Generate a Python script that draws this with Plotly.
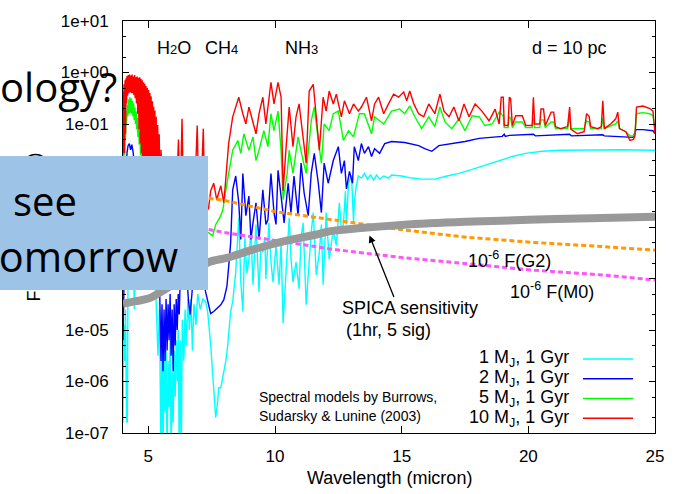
import numpy as np
import plotly.graph_objects as go

# ---------------- data (wavelength in micron, log10 flux in mJy) ----------------
wl_1mj = [4.00,4.03,4.06,4.10,4.14,4.17,4.20,4.30,4.40,4.45,4.50,4.60,4.80,5.00,5.20,5.30,
 5.38,5.44,5.50,5.54,5.58,5.62,5.66,5.70,5.74,5.78,5.82,5.86,5.90,5.94,5.98,6.02,6.06,6.10,6.14,6.18,6.22,6.26,6.30,6.34,6.40,6.45,6.50,6.56,6.62,6.68,6.74,6.80,6.88,6.95,7.05,7.15,
 7.26,7.34,7.46,7.58,7.66,7.74,7.78,7.86,7.94,7.98,8.06,8.13,8.25,8.33,
 8.45,8.57,8.65,8.73,8.81,8.89,8.97,9.05,9.13,9.25,9.37,9.44,9.52,9.60,9.64,9.76,9.84,9.92,10.04,10.16,10.24,10.32,10.44,10.56,10.63,10.71,10.83,10.95,11.03,11.11,11.23,11.35,11.43,11.51,11.63,11.75,11.83,11.90,12.02,12.14,12.22,12.30,12.42,12.54,12.62,12.70,12.78,12.82,12.90,13.02,13.10,13.13,13.21,13.29,13.41,13.53,13.65,13.77,13.89,14.01,14.13,14.29,14.48,14.60,15.0,15.4,15.79,16.31,16.79,17.26,17.78,18.17,18.57,18.97,19.37,19.88,20.56,21.23,22.54,23.73,25.00]
logf_1mj = [-6.8,-4.9,-5.6,-4.6,-6.75,-6.8,-3.8,-3.0,-3.5,-4.6,-3.6,-3.2,-3.5,-3.8,-4.0,-4.3,
 -5.5,-4.6,-7.5,-5.0,-7.5,-5.5,-6.6,-5.4,-7.5,-5.6,-6.5,-5.2,-7.5,-5.8,-6.8,-5.4,-6.3,-5.2,-6.0,-5.0,-7.5,-5.2,-7.5,-4.8,-5.6,-4.6,-5.3,-4.4,-5.0,-4.4,-5.4,-4.5,-4.9,-4.3,-4.6,-4.4,
 -4.45,-4.64,-5.28,-6.05,-6.70,-6.37,-6.12,-6.12,-5.90,-5.74,-5.60,-5.31,-4.64,-4.45,
 -3.88,-2.82,-4.07,-4.64,-3.20,-3.90,-3.63,-3.05,-4.12,-2.95,-4.26,-3.40,-3.49,-3.20,-4.01,-2.92,-3.68,-4.07,-3.36,-4.12,-3.30,-4.87,-3.78,-2.82,-3.60,-4.07,-3.68,-4.20,-3.20,-2.92,-4.51,-3.63,-3.10,-2.72,-3.93,-3.49,-2.95,-4.12,-2.72,-3.63,-3.30,-3.05,-3.36,-2.53,-3.05,-2.95,-2.30,-2.95,-2.15,-2.00,-2.90,-2.53,-2.20,-2.01,-2.05,-1.96,-2.07,-1.99,-2.09,-1.99,-2.07,-2.01,-2.05,-1.99,-2.01,-2.05,-2.07,-2.07,-2.01,-1.96,-1.88,-1.82,-1.76,-1.69,-1.63,-1.57,-1.53,-1.51,-1.50,-1.50,-1.51]

wl_2mj = [4.00,4.03,4.06,4.12,4.16,4.20,4.25,4.30,4.35,4.40,4.48,4.6,4.8,5.0,5.2,5.35,
 5.40,5.45,5.50,5.54,5.58,5.62,5.66,5.70,5.74,5.78,5.82,5.86,5.90,5.94,5.98,6.02,6.06,6.10,6.14,6.18,6.22,6.26,6.35,6.50,6.58,6.65,6.72,6.80,6.95,7.10,7.26,7.34,7.46,7.58,7.70,7.86,7.98,8.10,8.17,8.25,
 8.33,8.45,8.57,8.65,8.73,8.85,8.97,9.05,9.13,9.25,9.37,9.52,9.64,9.72,9.84,9.96,10.04,10.12,10.24,10.36,10.52,10.63,10.75,10.91,11.03,11.15,11.31,11.43,11.55,11.71,11.83,11.94,12.10,12.30,12.50,12.62,12.74,12.82,12.94,13.06,13.13,13.29,13.41,13.53,13.69,13.81,13.93,14.13,14.33,14.60,15.12,15.67,15.91,16.19,16.47,16.98,17.50,18.06,18.57,18.97,19.05,19.09,19.25,20.20,20.28,21.63,21.70,22.94,23.00,23.85,24.13,24.25,24.52,24.92,25.00]
logf_2mj = [-5.2,-4.4,-3.0,-1.9,-1.55,-1.42,-1.38,-1.50,-1.40,-1.55,-1.9,-2.5,-3.0,-3.3,-3.5,-3.6,
 -3.5,-4.3,-5.6,-4.5,-5.8,-4.6,-5.6,-4.4,-5.4,-4.5,-5.2,-4.3,-5.5,-4.6,-5.8,-4.5,-5.3,-4.4,-5.0,-4.3,-4.7,-4.0,-3.5,-3.8,-4.4,-4.7,-4.3,-3.8,-3.6,-3.8,-4.26,-4.45,-4.68,-4.64,-4.59,-4.51,-4.41,-4.16,-3.78,-3.30,
 -2.28,-2.01,-2.53,-3.24,-1.96,-2.78,-2.40,-3.24,-2.92,-2.53,-3.24,-2.28,-2.95,-2.86,-1.96,-2.72,-2.95,-1.90,-2.40,-2.92,-2.15,-2.72,-2.01,-2.78,-1.76,-2.34,-2.78,-1.96,-1.57,-2.15,-2.72,-1.76,-2.15,-1.71,-1.44,-1.96,-1.71,-2.26,-1.92,-2.15,-1.44,-1.71,-1.38,-1.57,-1.44,-1.63,-1.48,-1.57,-1.38,-1.34,-1.36,-1.42,-1.48,-1.53,-1.42,-1.38,-1.34,-1.28,-1.25,-1.24,-1.20,-1.24,-1.22,-1.20,-1.23,-1.20,-1.23,-1.21,-1.23,-1.25,-1.26,-1.11,-1.11,-1.13,-1.19]

wl_5mj = [4.00,4.02,4.04,4.06,4.08,4.10,4.12,4.14,4.17,4.19,4.22,4.24,4.27,4.29,4.32,4.34,4.37,4.39,4.42,4.44,4.47,4.49,4.52,4.54,4.57,4.59,4.62,4.64,4.67,4.69,4.72,4.75,4.78,4.82,4.86,4.95,5.2,5.5,6.0,6.3,6.6,7.0,7.3,
 7.38,7.54,7.66,7.82,7.94,8.06,8.17,8.33,8.53,8.65,8.77,8.97,9.13,9.25,9.37,9.56,9.72,9.84,9.96,10.12,10.24,10.32,10.48,10.56,10.71,10.91,11.11,11.23,11.43,11.55,11.71,11.83,11.94,12.14,12.30,12.50,12.70,12.90,13.10,13.33,13.53,13.81,13.93,14.29,14.60,14.92,15.12,15.32,15.52,15.79,16.07,16.31,16.51,16.71,16.98,17.26,17.50,17.78,18.06,18.29,18.57,18.85,19.01,19.05,19.20,19.25,19.30,19.37,19.50,19.76,19.90,20.15,20.20,20.25,20.45,20.50,20.60,20.67,20.90,21.00,21.07,21.55,21.63,21.68,22.20,22.30,22.40,22.46,22.88,22.94,23.00,23.45,23.53,23.60,23.85,24.01,24.15,24.21,24.27,24.52,24.80,24.92,25.00]
logf_5mj = [-1.57,-1.9,-1.25,-1.6,-0.95,-1.3,-0.75,-1.0,-0.62,-0.85,-0.52,-0.80,-0.48,-0.78,-0.50,-0.80,-0.55,-0.85,-0.60,-0.92,-0.68,-1.0,-0.76,-1.1,-0.88,-1.25,-1.02,-1.4,-1.15,-1.6,-1.30,-1.8,-1.50,-2.0,-1.8,-2.3,-2.6,-3.0,-3.2,-2.9,-3.0,-3.1,-3.1,
 -3.11,-3.17,-2.95,-2.82,-2.67,-2.28,-1.96,-1.51,-1.32,-1.57,-1.19,-1.51,-1.25,-1.71,-1.51,-1.13,-1.44,-0.80,-1.13,-0.75,-1.51,-2.47,-1.96,-1.51,-1.96,-1.25,-1.71,-1.96,-0.94,-0.67,-1.32,-1.76,-1.00,-1.13,-0.80,-0.75,-1.32,-1.13,-1.25,-0.80,-0.80,-1.19,-0.86,-1.00,-0.75,-0.71,-0.80,-0.65,-0.86,-1.09,-0.86,-1.05,-0.67,-0.96,-1.09,-0.90,-1.13,-0.84,-0.86,-1.03,-1.00,-0.77,-0.84,-1.07,-1.07,-0.86,-0.88,-1.07,-0.96,-0.96,-1.07,-1.07,-0.88,-1.07,-1.07,-0.92,-0.92,-1.07,-0.96,-0.96,-1.09,-1.09,-0.86,-1.09,-1.09,-0.94,-0.96,-1.09,-1.09,-0.88,-1.09,-1.00,-0.94,-1.09,-1.15,-1.23,-1.23,-1.19,-0.80,-0.78,-0.80,-0.84,-1.09]

wl_10mj = [4.00,4.02,4.04,4.06,4.08,4.10,4.12,4.14,4.16,4.18,4.21,4.23,4.26,4.28,4.31,4.33,4.36,4.38,4.41,4.43,4.46,4.48,4.51,4.53,4.56,4.58,4.61,4.63,4.66,4.68,4.71,4.73,4.76,4.78,4.81,4.83,4.86,4.88,4.91,4.93,4.96,4.98,5.01,5.03,5.06,5.08,5.11,5.13,5.16,5.18,5.21,5.23,5.26,5.28,5.31,5.34,5.37,5.40,5.43,5.46,5.50,
 5.60,5.80,6.00,6.12,6.19,6.24,6.29,6.33,6.37,6.50,6.70,6.85,6.93,6.98,7.08,7.17,7.22,7.30,
 7.38,7.46,7.58,7.70,7.86,7.98,8.10,8.17,8.33,8.45,8.57,8.73,8.85,8.97,9.13,9.25,9.37,9.52,9.64,9.84,9.96,10.12,10.24,10.32,10.44,10.56,10.71,10.83,10.95,11.11,11.23,11.35,11.51,11.63,11.75,11.90,12.02,12.14,12.30,12.42,12.62,12.74,12.94,13.10,13.29,
 13.41,13.61,13.81,13.93,14.09,14.29,14.48,14.68,14.88,15.08,15.20,15.32,15.48,15.67,15.87,16.07,16.31,16.51,16.67,16.87,17.06,17.26,17.46,17.66,17.90,18.17,18.45,18.69,18.85,18.93,19.01,19.05,19.20,19.25,19.30,19.37,19.50,19.76,19.90,20.15,20.20,20.25,20.45,20.50,20.60,20.67,20.90,21.00,21.07,21.27,21.55,21.63,21.68,21.94,22.20,22.30,22.40,22.46,22.74,22.88,22.94,23.00,23.25,23.45,23.53,23.60,23.85,24.01,24.15,24.21,24.27,24.52,24.80,24.92,25.00]
logf_10mj = [-0.38,-1.57,-0.23,-1.57,-0.15,-1.19,-0.11,-0.60,-0.07,-0.45,-0.05,-0.40,-0.04,-0.38,-0.06,-0.40,-0.04,-0.40,-0.08,-0.44,-0.05,-0.50,-0.09,-0.60,-0.08,-0.80,-0.10,-1.10,-0.09,-1.38,-0.12,-1.57,-0.15,-1.76,-0.19,-1.90,-0.22,-1.90,-0.26,-1.96,-0.30,-1.96,-0.34,-1.96,-0.40,-2.0,-0.46,-2.0,-0.56,-2.0,-0.66,-2.1,-0.74,-2.2,-0.86,-2.3,-1.02,-2.4,-1.20,-2.5,-1.50,
 -2.6,-2.4,-2.5,-2.2,-1.30,-2.3,-1.8,-0.90,-2.0,-2.4,-2.3,-2.1,-1.03,-2.2,-2.3,-1.09,-2.4,-2.7,
 -2.63,-2.30,-2.15,-2.47,-2.20,-2.53,-1.71,-1.38,-0.86,-0.67,-0.48,-0.80,-1.00,-0.67,-0.94,-1.19,-0.80,-0.48,-1.00,-0.19,-0.61,-0.19,-0.48,-2.30,-1.44,-0.67,-1.44,-0.86,-0.61,-1.25,-1.76,-0.36,-0.23,-0.86,-1.51,-0.48,-0.75,-0.36,-0.61,-0.42,-0.86,-0.55,-0.80,-0.61,-0.75,
 -0.67,-0.48,-0.94,-0.61,-0.48,-0.80,-0.61,-0.42,-0.48,-0.38,-0.55,-0.36,-0.61,-0.80,-0.86,-0.61,-0.80,-0.42,-0.75,-0.86,-0.67,-0.94,-0.61,-0.86,-0.61,-0.75,-0.94,-0.71,-1.00,-0.48,-0.48,-1.03,-1.03,-0.48,-0.50,-1.03,-0.84,-0.84,-1.03,-1.03,-0.48,-1.00,-1.00,-0.71,-0.71,-1.03,-0.77,-0.77,-1.05,-1.09,-1.05,-0.67,-1.10,-1.19,-1.15,-0.80,-0.85,-1.05,-1.09,-1.05,-0.55,-1.09,-1.00,-0.90,-0.77,-1.09,-1.15,-1.32,-1.30,-1.23,-0.67,-0.65,-0.70,-0.75,-1.19]

wl_g2 = [7.38, 8.06, 10.0, 12.22, 14.96, 17.58, 20.24, 22.9, 25.0]
logf_g2 = [-2.44, -2.49, -2.70, -2.86, -3.05, -3.20, -3.30, -3.38, -3.45]
wl_m0 = [7.38, 8.06, 10.0, 12.22, 14.96, 17.58, 20.24, 22.9, 25.0]
logf_m0 = [-3.05, -3.11, -3.26, -3.43, -3.59, -3.72, -3.84, -3.93, -4.03]
wl_spica = [4.0, 4.5, 5.0, 5.5, 6.0, 6.5, 7.0, 7.4, 8.1, 9.0, 9.84, 10.5, 11.6, 12.2, 13.4, 15.0, 17.5, 20.0, 22.5, 25.0]
logf_spica = [-4.49, -4.44, -4.39, -4.26, -4.10, -3.95, -3.80, -3.68, -3.60, -3.46, -3.34, -3.26, -3.15, -3.08, -3.02, -2.96, -2.90, -2.86, -2.83, -2.80]

series_names = ["1 M<sub>J</sub>, 1 Gyr", "2 M<sub>J</sub>, 1 Gyr", "5 M<sub>J</sub>, 1 Gyr", "10 M<sub>J</sub>, 1 Gyr"]
series_colors = ["#00FFFF", "#0000FF", "#00FF00", "#FF0000"]
y_tick_vals = [1e-7, 1e-6, 1e-5, 1e-4, 1e-3, 1e-2, 1e-1, 1e0, 1e1]
y_tick_text = ["1e-07", "1e-06", "1e-05", "1e-04", "1e-03", "1e-02", "1e-01", "1e+00", "1e+01"]
x_tick_vals = [5, 10, 15, 20, 25]

# ---------------- figure ----------------
W, H = 681, 494
L, R, T, B = 123, 26, 16, 61
PW, PH = W - L - R, H - T - B

def px(x):
    return (x - L) / PW

def py(y):
    return (H - B - y) / PH

FONT = "Liberation Sans, Arial, sans-serif"
fig = go.Figure()

spectra = [(wl_1mj, logf_1mj), (wl_2mj, logf_2mj), (wl_5mj, logf_5mj), (wl_10mj, logf_10mj)]
for (wl, lf), name, col in zip(spectra, series_names, series_colors):
    fig.add_trace(go.Scatter(x=wl, y=10 ** np.array(lf), mode="lines", name=name,
                             line=dict(color=col, width=1.4), showlegend=False))

fig.add_trace(go.Scatter(x=wl_g2, y=10 ** np.array(logf_g2), mode="lines", showlegend=False,
                         line=dict(color="#FF9900", width=3, dash="5px,3px")))
fig.add_trace(go.Scatter(x=wl_m0, y=10 ** np.array(logf_m0), mode="lines", showlegend=False,
                         line=dict(color="#FF55FF", width=3, dash="5px,3px")))
fig.add_trace(go.Scatter(x=wl_spica, y=10 ** np.array(logf_spica), mode="lines", showlegend=False,
                         line=dict(color="#999999", width=8, shape="spline")))

minor_vals = []
for e in range(-7, 1):
    minor_vals += [2 * 10.0 ** e, 5 * 10.0 ** e]

fig.update_layout(
    width=W, height=H, margin=dict(l=L, r=R, t=T, b=B, pad=0),
    paper_bgcolor="white", plot_bgcolor="white", showlegend=False,
    font=dict(family=FONT, size=17, color="black"),
    xaxis=dict(range=[4, 25], tickmode="array", tickvals=x_tick_vals, ticks="inside", ticklen=7,
               tickcolor="black", showline=True, linecolor="black", linewidth=1, mirror="ticks",
               showgrid=False, zeroline=False, ticklabelstandoff=8,
               tickfont=dict(family=FONT, size=17, color="black")),
    yaxis=dict(type="log", range=[-7, 1], tickmode="array", tickvals=y_tick_vals, ticktext=y_tick_text,
               ticks="inside", ticklen=6, tickcolor="black", showline=True, linecolor="black", linewidth=1,
               mirror="ticks", showgrid=False, zeroline=False, ticklabelstandoff=10,
               tickfont=dict(family=FONT, size=17, color="black"),
               minor=dict(tickmode="array", tickvals=minor_vals, ticks="inside", ticklen=3,
                          tickcolor="black", showgrid=False)),
)

ann = []
# y-axis title (mostly hidden behind the overlay box)
ann.append(dict(xref="paper", yref="paper", x=px(34), y=py(225), text="Flux Density (mJy)", showarrow=False,
                textangle=-90, font=dict(family=FONT, size=18, color="black"), xanchor="center", yanchor="middle"))
# x-axis title
ann.append(dict(xref="paper", yref="paper", x=px(389), y=py(479), text="Wavelength (micron)", showarrow=False,
                font=dict(family=FONT, size=18, color="black"), xanchor="center", yanchor="middle"))

def label(x, y, text, size=18, anchor="left"):
    ann.append(dict(xref="paper", yref="paper", x=px(x), y=py(y), text=text, showarrow=False,
                    font=dict(family=FONT, size=size, color="black"), xanchor=anchor, yanchor="middle"))

label(155, 43, "H<span style='font-size:13px'>2</span>O")
label(203, 43, "CH<span style='font-size:13px'>4</span>")
label(283, 43, "NH<span style='font-size:13px'>3</span>")
label(530, 43, "d = 10 pc")
label(466, 257, "10<sup>-6</sup> F(G2)")
label(508, 289, "10<sup>-6</sup> F(M0)")
label(340, 306, "SPICA sensitivity")
label(344, 329, "(1hr, 5 sig)")
label(257, 397, "Spectral models by Burrows,", size=14)
label(257, 416, "Sudarsky &amp; Lunine (2003)", size=14)

# arrow to the sensitivity curve
ann.append(dict(xref="x", yref="y", x=13.73, y=-3.165, ax=25, ay=63, axref="pixel", ayref="pixel",
                text="", showarrow=True, arrowhead=2, arrowsize=1.1, arrowwidth=1.3, arrowcolor="black", standoff=0))

# custom legend (text right-aligned, sample line on the right)
leg_y = [358, 378, 398, 418]
for name, col, yy in zip(series_names, series_colors, leg_y):
    label(571, yy, name, size=18, anchor="right")

# overlay slide elements
OV = "Open Sans, Noto Sans, sans-serif"
ann.append(dict(xref="paper", yref="paper", x=px(0), y=py(288), xanchor="left", yanchor="bottom",
                text=" ", showarrow=False, width=208, height=134, bgcolor="#9DC3E6", borderpad=0, borderwidth=0))
ann.append(dict(xref="paper", yref="paper", x=px(11), y=py(198), xanchor="left", yanchor="middle",
                text="see", showarrow=False, font=dict(family=OV, size=40, color="black")))
ann.append(dict(xref="paper", yref="paper", x=px(180), y=py(254), xanchor="right", yanchor="middle",
                text="tomorrow", showarrow=False, font=dict(family=OV, size=41.5, color="black")))
ann.append(dict(xref="paper", yref="paper", x=px(119), y=py(82), xanchor="right", yanchor="middle",
                text="ology?", showarrow=False, font=dict(family=OV, size=40, color="black")))

shapes = []
for col, yy in zip(series_colors, leg_y):
    shapes.append(dict(type="line", xref="paper", yref="paper", x0=px(583), x1=px(633), y0=py(yy), y1=py(yy),
                       line=dict(color=col, width=1.5)))

fig.update_layout(annotations=ann, shapes=shapes)
fig.write_html("out.html", config={"displayModeBar": False},
               post_script="document.body.style.margin='0px';document.body.style.overflow='hidden';")
